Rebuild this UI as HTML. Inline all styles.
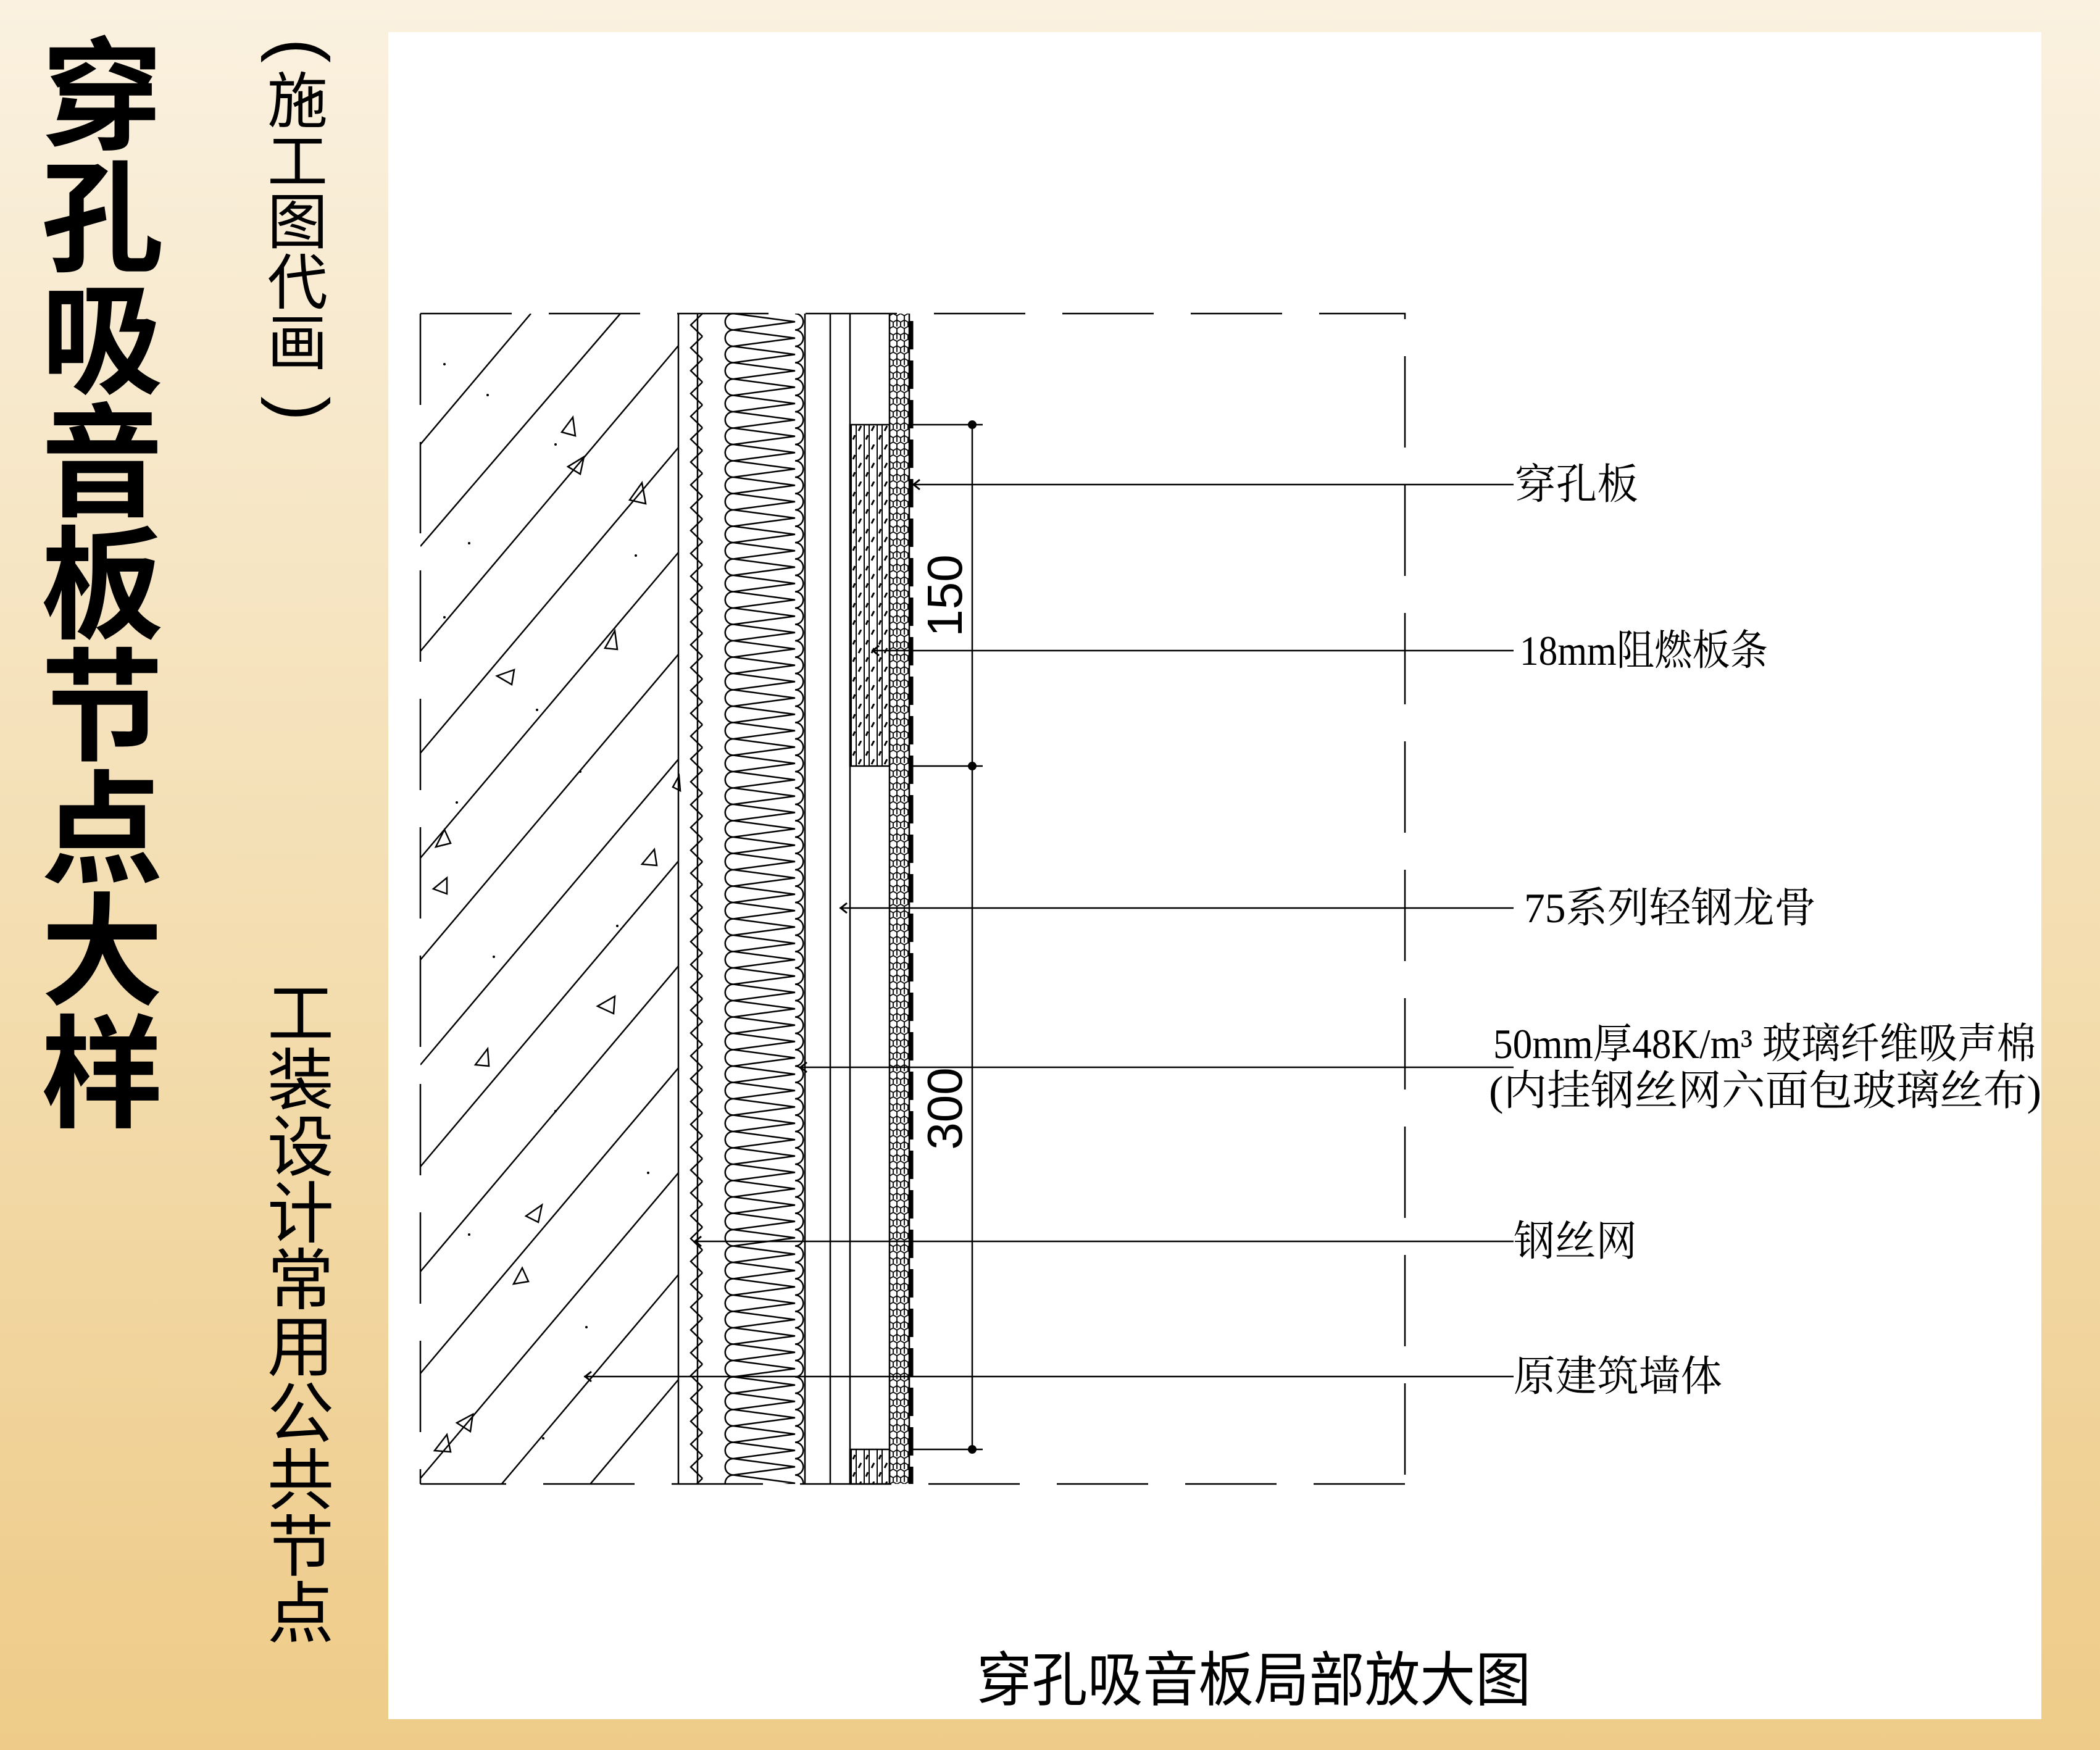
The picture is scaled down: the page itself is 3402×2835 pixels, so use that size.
<!DOCTYPE html>
<html><head><meta charset="utf-8"><style>
html,body{margin:0;padding:0}
body{width:3402px;height:2835px;position:relative;overflow:hidden;background:linear-gradient(180deg,#faf1e0 0%,#f4dfb4 50%,#eecb88 100%);font-family:"Liberation Sans","Noto Sans CJK SC",sans-serif}
.v{position:absolute;writing-mode:vertical-rl;color:#000;white-space:nowrap}
.panel{position:absolute;left:629px;top:52px;width:2678px;height:2733px;background:#fff}
svg{position:absolute;left:0;top:0}
.lab{font-family:"Liberation Serif","Noto Serif CJK SC",serif;font-size:68px}
</style></head><body>
<div class="v" style="left:65px;top:52px;font-size:198px;line-height:200px;font-weight:bold;font-family:'Noto Sans CJK SC',sans-serif">穿孔吸音板节点大样</div>
<div class="v" style="left:432px;top:112px;font-size:98px;line-height:100px;font-family:'Noto Sans CJK SC',sans-serif">施工图代画</div>
<div class="v" style="left:432px;top:1585px;font-size:108px;line-height:110px;font-family:'Noto Sans CJK SC',sans-serif">工装设计常用公共节点</div>
<div class="panel"></div>
<svg width="3402" height="2835" viewBox="0 0 3402 2835">
<defs>
<clipPath id="wall"><rect x="681" y="508" width="418" height="1896"/></clipPath>
<pattern id="ins" x="1172" y="508" width="132" height="26.5" patternUnits="userSpaceOnUse">
<path d="M16,0 A13.25,13.25 0 0 0 16,26.5 M116,0 A13.25,13.25 0 0 1 116,26.5 M16,0 L116,13.25 L16,26.5" fill="none" stroke="#000" stroke-width="2.5"/>
</pattern>
<pattern id="zig" x="1116" y="508" width="24" height="37" patternUnits="userSpaceOnUse">
<path d="M22,0 L3,18.5 L22,37" fill="none" stroke="#000" stroke-width="2.5"/>
</pattern>
<pattern id="hex" x="1441" y="508" width="12" height="20.8" patternUnits="userSpaceOnUse">
<path d="M0,3.46 L6,0 L12,3.46 L12,10.39 L6,13.86 L0,10.39 Z M6,13.86 L6,20.8 M0,10.39 L0,20.8 M12,10.39 L12,20.8" fill="none" stroke="#000" stroke-width="1.8"/>
</pattern>
<pattern id="strip" x="1377" y="0" width="21" height="60" patternUnits="userSpaceOnUse">
<path d="M2,0 V60 M10,0 V60" stroke="#000" stroke-width="2"/>
<path d="M14,8 L18,0 M14,38 L18,30 M5,24 L8,17 M5,52 L8,45" stroke="#000" stroke-width="3"/>
</pattern>
</defs>
<text transform="translate(448,82) rotate(90)" text-anchor="middle" font-family="Liberation Sans, sans-serif" font-size="120">(</text>
<text transform="translate(448,662) rotate(90)" text-anchor="middle" font-family="Liberation Sans, sans-serif" font-size="120">)</text>
<!-- wall hatch -->
<g clip-path="url(#wall)" stroke="#000" stroke-width="2.5">
<line x1="681" y1="720" x2="860" y2="508"/>
<line x1="681" y1="1055" x2="1099" y2="560"/>
<line x1="681" y1="1390" x2="1099" y2="895"/>
<line x1="681" y1="1725" x2="1099" y2="1230"/>
<line x1="681" y1="2060" x2="1099" y2="1565"/>
<line x1="681" y1="2395" x2="1099" y2="1900"/>
<line x1="681" y1="2730" x2="1099" y2="2235"/>
<line x1="681" y1="3065" x2="1099" y2="2570"/>
<line x1="681" y1="1220" x2="1099" y2="725"/>
<line x1="681" y1="1890" x2="1099" y2="1395"/>
<line x1="681" y1="2560" x2="1099" y2="2065"/>
<line x1="681" y1="885" x2="1005" y2="508"/>
<line x1="681" y1="1555" x2="1099" y2="1060"/>
<line x1="681" y1="2225" x2="1099" y2="1730"/>
</g>
<g fill="none" stroke="#000" stroke-width="2.5">
<path d="M910,700 l18,-24 l4,30 z M920,756 l26,-16 l-6,28 z M1020,810 l20,-28 l6,34 z M805,1095 l28,-10 l-4,24 z M980,1050 l16,-28 l4,30 z M706,1372 l24,-6 l-10,-22 z M702,1440 l22,-18 l0,26 z M1040,1400 l20,-24 l4,26 z M968,1630 l28,-16 l-2,28 z M770,1725 l20,-26 l2,28 z M852,1970 l26,-18 l-6,28 z M832,2080 l24,-4 l-10,-22 z M740,2305 l26,-14 l-4,28 z M704,2350 l20,-26 l6,28 z M1090,1275 l10,-18 l2,24 z"/>
</g>
<g fill="#000">
<circle cx="720" cy="590" r="2"/><circle cx="790" cy="640" r="2"/><circle cx="900" cy="720" r="2"/><circle cx="760" cy="880" r="2"/><circle cx="1030" cy="900" r="2"/><circle cx="720" cy="1000" r="2"/><circle cx="870" cy="1150" r="2"/><circle cx="940" cy="1250" r="2"/><circle cx="740" cy="1300" r="2"/><circle cx="1000" cy="1500" r="2"/><circle cx="800" cy="1550" r="2"/><circle cx="900" cy="1800" r="2"/><circle cx="1050" cy="1900" r="2"/><circle cx="760" cy="2000" r="2"/><circle cx="950" cy="2150" r="2"/><circle cx="880" cy="2330" r="2"/></g>
<!-- frame dashed -->
<g fill="none" stroke="#000" stroke-width="2.5" stroke-dasharray="148 60">
<path d="M681,508 H2276 V2404"/>
<path d="M681,508 V2404"/>
<path d="M2276,2404 H681"/>
</g>
<g stroke="#000" stroke-width="2.5">
<line x1="1099" y1="508" x2="1099" y2="2404"/>
<line x1="1130" y1="508" x2="1130" y2="2404"/>
<line x1="1304" y1="508" x2="1304" y2="2404"/>
<line x1="1345" y1="508" x2="1345" y2="2404"/>
<line x1="1377" y1="508" x2="1377" y2="2404"/>
<line x1="1441" y1="508" x2="1441" y2="2404"/>
<line x1="1473" y1="508" x2="1473" y2="2404"/>
</g>
<rect x="1116" y="508" width="24" height="1896" fill="url(#zig)"/>
<rect x="1172" y="508" width="132" height="1896" fill="url(#ins)"/>
<rect x="1441" y="508" width="32" height="1896" fill="url(#hex)"/>
<line x1="1476" y1="520" x2="1476" y2="2404" stroke="#000" stroke-width="7" stroke-dasharray="46 18"/>
<rect x="1377" y="688" width="64" height="553" fill="url(#strip)" stroke="#000" stroke-width="2.5"/>
<rect x="1377" y="2348" width="64" height="56" fill="url(#strip)" stroke="#000" stroke-width="2.5"/>
<g stroke="#000" stroke-width="2.5">
<line x1="1575" y1="688" x2="1575" y2="2348"/>
<line x1="1476" y1="688" x2="1592" y2="688"/>
<line x1="1476" y1="1241" x2="1592" y2="1241"/>
<line x1="1476" y1="2348" x2="1592" y2="2348"/>
</g>
<circle cx="1575" cy="688" r="7"/><circle cx="1575" cy="1241" r="7"/><circle cx="1575" cy="2348" r="7"/>
<text transform="translate(1558,965) rotate(-90)" text-anchor="middle" font-family="Liberation Sans, sans-serif" font-size="80">150</text>
<text transform="translate(1558,1796) rotate(-90)" text-anchor="middle" font-family="Liberation Sans, sans-serif" font-size="80">300</text>
<g stroke="#000" stroke-width="2.5">
<line x1="1478" y1="785" x2="2452" y2="785"/>
<line x1="1412" y1="1054" x2="2452" y2="1054"/>
<line x1="1360" y1="1471" x2="2452" y2="1471"/>
<line x1="1295" y1="1729" x2="2452" y2="1729"/>
<line x1="1124" y1="2011" x2="2452" y2="2011"/>
<line x1="946" y1="2230" x2="2452" y2="2230"/>
</g>
<g fill="none" stroke="#000" stroke-width="3">
<path d="M1490,777 l-10,8 l10,8 M1424,1046 l-10,8 l10,8 M1372,1463 l-10,8 l10,8 M1307,1721 l-10,8 l10,8 M1136,2003 l-10,8 l10,8 M958,2222 l-10,8 l10,8"/>
</g>
<g class="lab">
<text x="2454" y="808" textLength="200" lengthAdjust="spacingAndGlyphs">穿孔板</text>
<text x="2462" y="1077" textLength="402" lengthAdjust="spacingAndGlyphs">18mm阻燃板条</text>
<text x="2469" y="1494" textLength="473" lengthAdjust="spacingAndGlyphs">75系列轻钢龙骨</text>
<text x="2419" y="1714" textLength="879" lengthAdjust="spacingAndGlyphs">50mm厚48K/m³ 玻璃纤维吸声棉</text>
<text x="2412" y="1790" textLength="895" lengthAdjust="spacingAndGlyphs">(内挂钢丝网六面包玻璃丝布)</text>
<text x="2452" y="2034" textLength="200" lengthAdjust="spacingAndGlyphs">钢丝网</text>
<text x="2452" y="2253" textLength="338" lengthAdjust="spacingAndGlyphs">原建筑墙体</text>
</g>
<text x="1582" y="2755" textLength="898" lengthAdjust="spacingAndGlyphs" font-family="Noto Sans CJK SC, sans-serif" font-size="96">穿孔吸音板局部放大图</text>
</svg>
</body></html>
